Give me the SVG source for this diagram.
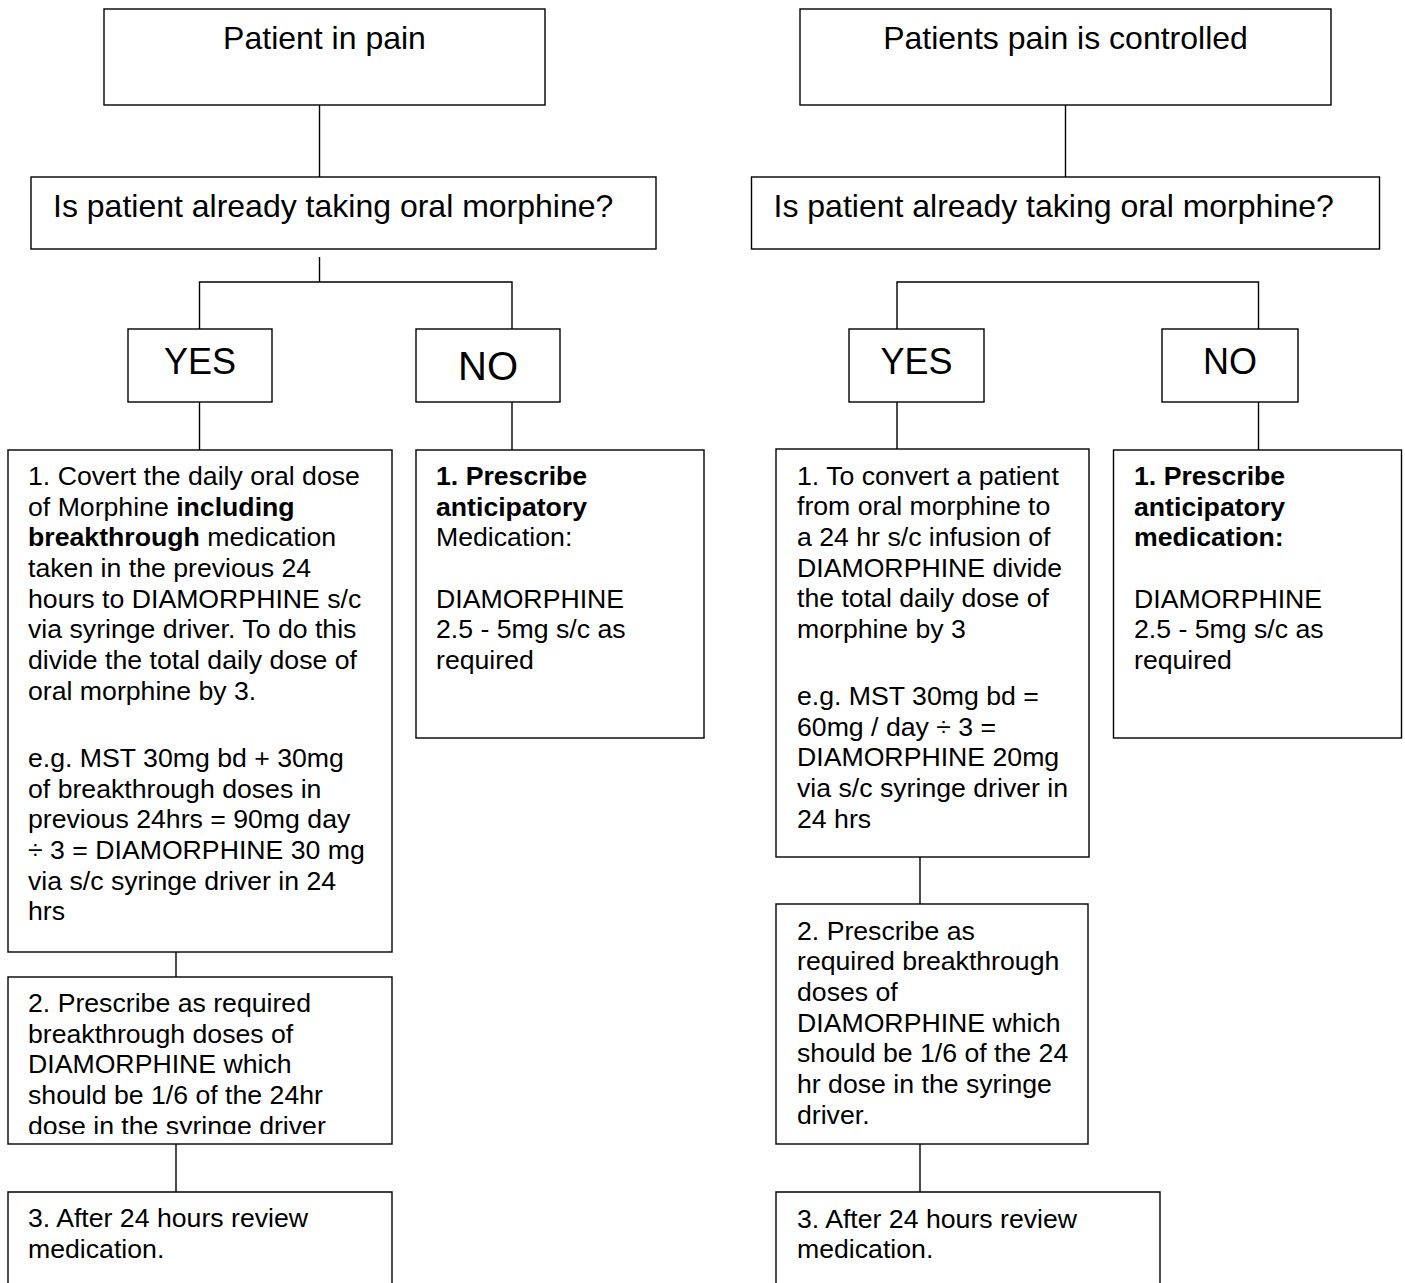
<svg xmlns="http://www.w3.org/2000/svg" width="1405" height="1283" viewBox="0 0 1405 1283">
<style>
.box{fill:#fff;stroke:#000;stroke-width:1.4}
.ln{fill:none;stroke:#000;stroke-width:1.4}
text{font-family:"Liberation Sans",Arial,sans-serif;fill:#000}
.t32{font-size:32px}
.b{font-size:26.67px}
.bold{font-weight:bold}
</style>
<defs>
<clipPath id="clipL2"><rect x="8" y="977" width="384" height="157"/></clipPath>
</defs>
<rect width="1405" height="1283" fill="#fff"/>
<g id="connectors">
<path class="ln" d="M319.5 105V177"/>
<path class="ln" d="M319.5 257V282M199.5 329V282H512V329"/>
<path class="ln" d="M199.5 402V450M512 402V450"/>
<path class="ln" d="M176 952V977M176 1144V1192"/>
<path class="ln" d="M1065.5 105V177"/>
<path class="ln" d="M897 329V282H1258.5V329"/>
<path class="ln" d="M897 402V449M1258.5 402V450"/>
<path class="ln" d="M920 857V904M920 1144V1192"/>
</g>
<g id="left-top">
<rect class="box" x="104" y="9" width="441" height="96"/>
<text class="t32" x="324.5" y="49" text-anchor="middle">Patient in pain</text>
</g>
<g id="left-question">
<rect class="box" x="31" y="177" width="625" height="72"/>
<text class="t32" x="53" y="217">Is patient already taking oral morphine?</text>
</g>
<g id="left-yes">
<rect class="box" x="128" y="329" width="144" height="73"/>
<text x="200" y="374" font-size="36" text-anchor="middle">YES</text>
</g>
<g id="left-no">
<rect class="box" x="416" y="329" width="144" height="73"/>
<text x="488" y="380" font-size="40" text-anchor="middle">NO</text>
</g>
<g id="left-yes-step1">
<rect class="box" x="8" y="450" width="384" height="502"/>
<text class="b" x="28">
<tspan x="28" y="485">1. Covert the daily oral dose</tspan>
<tspan x="28" y="515.7">of Morphine <tspan class="bold">including</tspan></tspan>
<tspan x="28" y="546.3" class="bold">breakthrough<tspan font-weight="normal"> medication</tspan></tspan>
<tspan x="28" y="577">taken in the previous 24</tspan>
<tspan x="28" y="607.7">hours to DIAMORPHINE s/c</tspan>
<tspan x="28" y="638.3">via syringe driver. To do this</tspan>
<tspan x="28" y="669">divide the total daily dose of</tspan>
<tspan x="28" y="699.7">oral morphine by 3.</tspan>
<tspan x="28" y="767">e.g. MST 30mg bd + 30mg</tspan>
<tspan x="28" y="797.7">of breakthrough doses in</tspan>
<tspan x="28" y="828.3">previous 24hrs = 90mg day</tspan>
<tspan x="28" y="859">÷ 3 = DIAMORPHINE 30 mg</tspan>
<tspan x="28" y="889.7">via s/c syringe driver in 24</tspan>
<tspan x="28" y="920.3">hrs</tspan>
</text>
</g>
<g id="left-no-step1">
<rect class="box" x="416" y="450" width="288" height="288"/>
<text class="b">
<tspan x="436" y="485" class="bold">1. Prescribe</tspan>
<tspan x="436" y="515.7" class="bold">anticipatory</tspan>
<tspan x="436" y="546.3">Medication:</tspan>
<tspan x="436" y="607.7">DIAMORPHINE</tspan>
<tspan x="436" y="638.3">2.5 - 5mg s/c as</tspan>
<tspan x="436" y="669">required</tspan>
</text>
</g>
<g id="left-yes-step2">
<rect class="box" x="8" y="977" width="384" height="167"/>
<text class="b" clip-path="url(#clipL2)">
<tspan x="28" y="1012">2. Prescribe as required</tspan>
<tspan x="28" y="1042.7">breakthrough doses of</tspan>
<tspan x="28" y="1073.3">DIAMORPHINE which</tspan>
<tspan x="28" y="1104">should be 1/6 of the 24hr</tspan>
<tspan x="28" y="1134.7">dose in the syringe driver</tspan>
</text>
</g>
<g id="left-yes-step3">
<path class="box" d="M8 1290V1192H392V1290"/>
<text class="b">
<tspan x="28" y="1227">3. After 24 hours review</tspan>
<tspan x="28" y="1257.7">medication.</tspan>
</text>
</g>
<g id="right-top">
<rect class="box" x="800" y="9" width="531" height="96"/>
<text class="t32" x="1065.5" y="49" text-anchor="middle">Patients pain is controlled</text>
</g>
<g id="right-question">
<rect class="box" x="751.5" y="177" width="628" height="72"/>
<text class="t32" x="773.5" y="217">Is patient already taking oral morphine?</text>
</g>
<g id="right-yes">
<rect class="box" x="849" y="329" width="135" height="73"/>
<text x="916.5" y="374" font-size="36" text-anchor="middle">YES</text>
</g>
<g id="right-no">
<rect class="box" x="1162" y="329" width="136" height="73"/>
<text x="1230" y="374" font-size="36" text-anchor="middle">NO</text>
</g>
<g id="right-yes-step1">
<rect class="box" x="776" y="449" width="313" height="408"/>
<text class="b">
<tspan x="797" y="484.5">1. To convert a patient</tspan>
<tspan x="797" y="515.2">from oral morphine to</tspan>
<tspan x="797" y="545.8">a 24 hr s/c infusion of</tspan>
<tspan x="797" y="576.5">DIAMORPHINE divide</tspan>
<tspan x="797" y="607.2">the total daily dose of</tspan>
<tspan x="797" y="637.8">morphine by 3</tspan>
<tspan x="797" y="705">e.g. MST 30mg bd =</tspan>
<tspan x="797" y="735.7">60mg / day ÷ 3 =</tspan>
<tspan x="797" y="766.3">DIAMORPHINE 20mg</tspan>
<tspan x="797" y="797">via s/c syringe driver in</tspan>
<tspan x="797" y="827.7">24 hrs</tspan>
</text>
</g>
<g id="right-no-step1">
<rect class="box" x="1113.5" y="450" width="288" height="288"/>
<text class="b">
<tspan x="1134" y="485" class="bold">1. Prescribe</tspan>
<tspan x="1134" y="515.7" class="bold">anticipatory</tspan>
<tspan x="1134" y="546.3" class="bold">medication:</tspan>
<tspan x="1134" y="607.7">DIAMORPHINE</tspan>
<tspan x="1134" y="638.3">2.5 - 5mg s/c as</tspan>
<tspan x="1134" y="669">required</tspan>
</text>
</g>
<g id="right-yes-step2">
<rect class="box" x="776" y="904" width="312" height="240"/>
<text class="b">
<tspan x="797" y="939.5">2. Prescribe as</tspan>
<tspan x="797" y="970.2">required breakthrough</tspan>
<tspan x="797" y="1000.8">doses of</tspan>
<tspan x="797" y="1031.5">DIAMORPHINE which</tspan>
<tspan x="797" y="1062.2">should be 1/6 of the 24</tspan>
<tspan x="797" y="1092.8">hr dose in the syringe</tspan>
<tspan x="797" y="1123.5">driver.</tspan>
</text>
</g>
<g id="right-yes-step3">
<path class="box" d="M776 1290V1192H1160V1290"/>
<text class="b">
<tspan x="797" y="1227.5">3. After 24 hours review</tspan>
<tspan x="797" y="1258">medication.</tspan>
</text>
</g>
</svg>
